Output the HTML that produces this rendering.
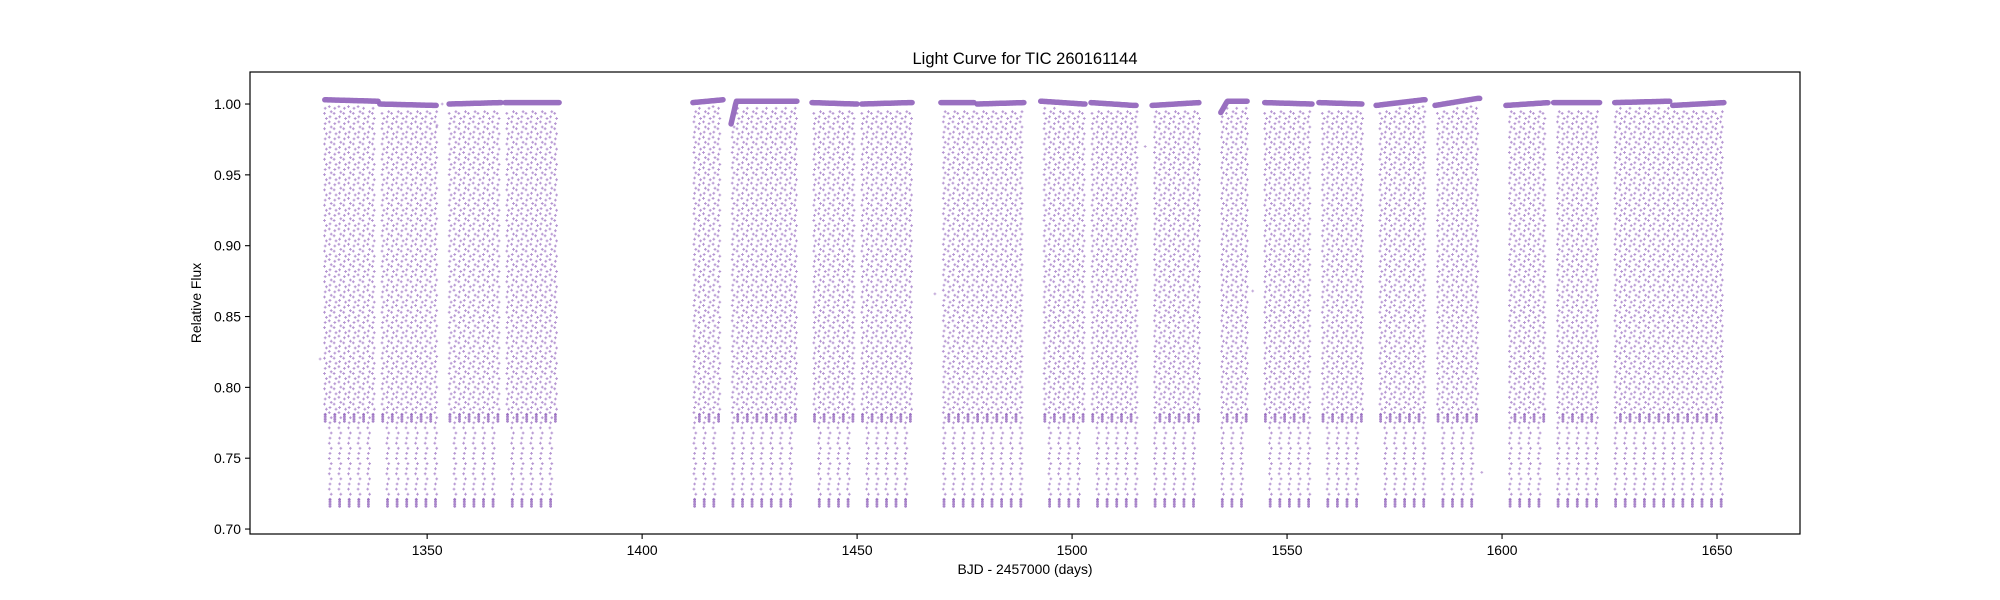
<!DOCTYPE html>
<html><head><meta charset="utf-8"><title>Light Curve for TIC 260161144</title>
<style>
html,body{margin:0;padding:0;background:#fff;}
svg{display:block;font-family:"Liberation Sans","DejaVu Sans",sans-serif;}
</style></head>
<body>
<svg id="chart" width="2000" height="600" viewBox="0 0 2000 600">
  <rect x="0" y="0" width="2000" height="600" fill="#fff"/>
  <text x="1025" y="64" text-anchor="middle" font-size="16.5" fill="#000">Light Curve for TIC 260161144</text>
  <g id="marks"></g>
  <rect x="250" y="72" width="1550" height="462" fill="none" stroke="#000" stroke-width="1.2"/>
  <g id="xticks"></g>
  <g id="yticks"></g>
  <text x="1025" y="574" text-anchor="middle" font-size="13.9" fill="#000">BJD - 2457000 (days)</text>
  <text x="0" y="0" transform="translate(201,303) rotate(-90)" text-anchor="middle" font-size="13.9" fill="#000">Relative Flux</text>
</svg>
<script>
// ---- data ----
const xTicks = [1350, 1400, 1450, 1500, 1550, 1600, 1650];
const yTicks = [0.70, 0.75, 0.80, 0.85, 0.90, 0.95, 1.00];
const yTickLabels = ["0.70", "0.75", "0.80", "0.85", "0.90", "0.95", "1.00"];
// observing segments: start, end (days)
const segStart = [1326.2, 1339.0, 1355.1, 1368.1, 1411.8, 1420.7, 1439.5, 1451.1, 1469.5, 1477.9, 1492.7, 1504.4, 1518.6, 1534.6, 1544.8, 1557.4, 1570.7, 1584.4, 1600.9, 1612.0, 1626.2, 1639.7];
const segEnd   = [1338.6, 1352.1, 1367.2, 1380.7, 1418.8, 1436.0, 1450.0, 1462.8, 1477.2, 1488.8, 1503.0, 1514.9, 1529.5, 1540.7, 1555.8, 1567.4, 1582.1, 1594.8, 1610.7, 1622.7, 1639.0, 1651.6];
// baseline flux at segment start and end
const baseStart = [1.003, 1.000, 1.000, 1.001, 1.001, 0.986, 1.001, 1.000, 1.001, 1.000, 1.002, 1.001, 0.999, 0.994, 1.001, 1.001, 0.999, 0.999, 0.999, 1.001, 1.001, 0.999];
const baseEnd   = [1.002, 0.999, 1.001, 1.001, 1.003, 1.002, 1.000, 1.001, 1.001, 1.001, 1.000, 0.999, 1.001, 1.002, 1.000, 1.000, 1.003, 1.004, 1.001, 1.001, 1.002, 1.001];
// days over which baseline moves from start to end value
const rampDays = [12, 13, 12, 12, 7, 1.2, 10, 11, 8, 11, 10, 10, 11, 1.5, 11, 10, 11, 10, 10, 10, 13, 12];
// eclipse ephemeris and depths
const period = [2.2315];
const epoch = [1327.4];
const primaryMin = [0.716];
const secondaryMin = [0.776];
// isolated stray points
const strayT = [1325.1, 1352.3, 1468.1, 1517.0, 1542.0, 1595.3, 1353.5];
const strayF = [0.820, 0.985, 0.866, 0.970, 0.868, 0.740, 1.000];

// ---- axes ----
const X0 = 250, X1 = 1800, Y0 = 72, Y1 = 534;
const xMin = 1308.8, xMax = 1669.3, yMin = 0.6965, yMax = 1.0226;
function xs(t){ return X0 + (t - xMin) / (xMax - xMin) * (X1 - X0); }
function ys(f){ return Y1 - (f - yMin) / (yMax - yMin) * (Y1 - Y0); }

const NS = "http://www.w3.org/2000/svg";
const xg = document.getElementById('xticks');
xTicks.forEach(v => {
  const x = xs(v);
  const l = document.createElementNS(NS, 'line');
  l.setAttribute('x1', x); l.setAttribute('x2', x); l.setAttribute('y1', Y1); l.setAttribute('y2', Y1 + 5);
  l.setAttribute('stroke', '#000'); l.setAttribute('stroke-width', '1.1');
  
  
  xg.appendChild(l);
  const t = document.createElementNS(NS, 'text');
  t.setAttribute('x', x); t.setAttribute('y', Y1 + 21); t.setAttribute('text-anchor', 'middle');
  t.setAttribute('font-size', '13.9'); t.textContent = String(v);
  
  
  xg.appendChild(t);
});
const yg = document.getElementById('yticks');
yTicks.forEach((v, i) => {
  const y = ys(v);
  const l = document.createElementNS(NS, 'line');
  l.setAttribute('x1', X0 - 5); l.setAttribute('x2', X0); l.setAttribute('y1', y); l.setAttribute('y2', y);
  l.setAttribute('stroke', '#000'); l.setAttribute('stroke-width', '1.1');
  
  
  yg.appendChild(l);
  const t = document.createElementNS(NS, 'text');
  t.setAttribute('x', X0 - 9); t.setAttribute('y', y + 5); t.setAttribute('text-anchor', 'end');
  t.setAttribute('font-size', '13.9'); t.textContent = yTickLabels[i];
  
  
  yg.appendChild(t);
});

// ---- marks ----
const mg = document.getElementById('marks');
function plus(x, y, s){ s = s || 1.4; return 'M' + (x - s).toFixed(1) + ' ' + y.toFixed(1) + 'h' + (2*s) + 'M' + x.toFixed(1) + ' ' + (y - s).toFixed(1) + 'v' + (2*s); }
function addPath(d, name, width, opacity, cap){
  const p = document.createElementNS(NS, 'path');
  p.setAttribute('d', d);
  p.setAttribute('stroke', '#9467bd');
  p.setAttribute('stroke-width', width);
  p.setAttribute('stroke-opacity', opacity);
  p.setAttribute('fill', 'none');
  if (cap) { p.setAttribute('stroke-linecap', cap); p.setAttribute('stroke-linejoin', 'round'); }
  
  
  mg.appendChild(p);
}
function baseAt(i, t){
  const u = (t - segStart[i]) / rampDays[i];
  return baseStart[i] + (baseEnd[i] - baseStart[i]) * Math.min(1, Math.max(0, u));
}
for (let i = 0; i < segStart.length; i++) {
  let d = '';
  const steps = Math.max(4, Math.round((segEnd[i] - segStart[i]) * 4));
  for (let k = 0; k <= steps; k++) {
    const t = segStart[i] + (segEnd[i] - segStart[i]) * k / steps;
    const y = ys(baseAt(i, t));
    d += (k === 0 ? 'M' : 'L') + xs(t).toFixed(1) + ' ' + y.toFixed(1);
  }
  addPath(d, 'baseline-segment', 5.5, 0.95, 'round');
  let dc = '';
  let db = '';
  const nStart = Math.ceil((segStart[i] - epoch[0]) / period[0] * 2 - 0.001);
  const nEnd = Math.floor((segEnd[i] - epoch[0]) / period[0] * 2 + 0.001);
  for (let n = nStart; n <= nEnd; n++) {
    const t = epoch[0] + n * period[0] / 2;
    if (t < segStart[i] + 0.05 || t > segEnd[i] - 0.05) continue;
    const isPrim = (n % 2 === 0);
    const fmin = isPrim ? primaryMin[0] : secondaryMin[0];
    const b = baseAt(i, t);
    const xc = xs(t);
    const step = 0.0036;
    let j = 0;
    for (let f = fmin + 0.005; f < b - 0.004; f += step, j++) {
      dc += plus(xc + (j % 3 === 1 ? 1.2 : (j % 3 === 2 ? -0.7 : 0)), ys(f));
    }
    for (let q = 0; q < 5; q++) db += plus(xc, ys(fmin + q * 0.0012), 1.4);
  }
  addPath(dc, 'eclipse-columns', 1, 0.7);
  addPath(db, 'eclipse-minima', 1.4, 0.8);
}
let ds = '';
for (let k = 0; k < strayT.length; k++) ds += plus(xs(strayT[k]), ys(strayF[k]));
addPath(ds, 'stray-points', 1, 0.6);
</script>
</body></html>
